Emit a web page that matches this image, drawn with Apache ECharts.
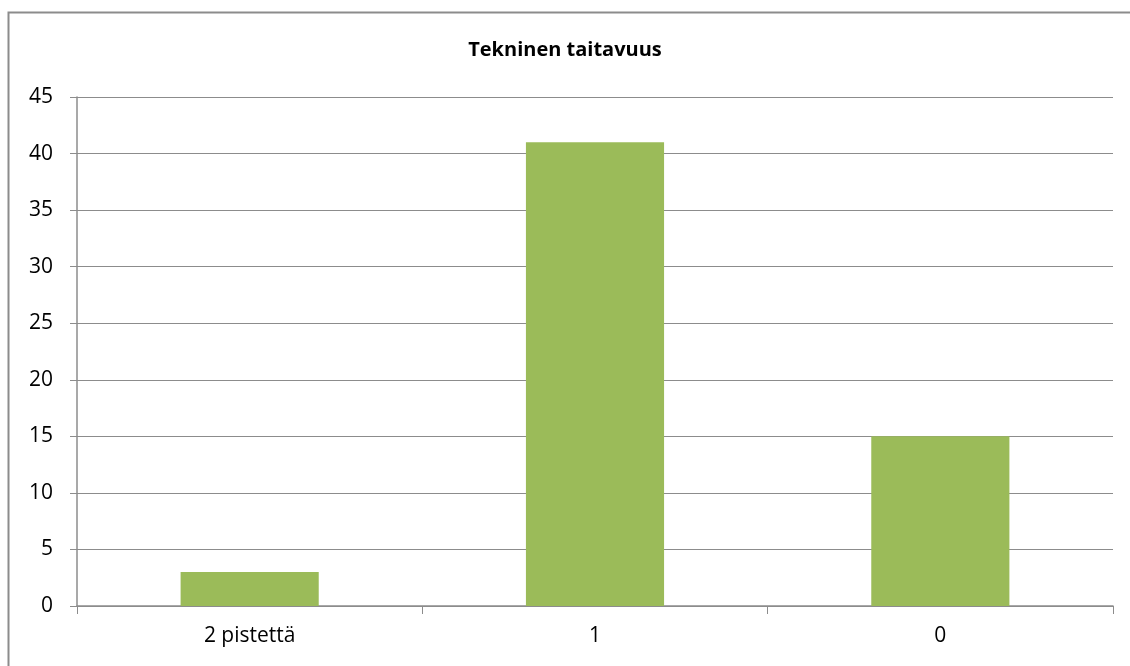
<!DOCTYPE html>
<html>
<head>
<meta charset="utf-8">
<script src="https://cdn.jsdelivr.net/npm/echarts@6/dist/echarts.min.js"></script>
<style>
  html, body { margin: 0; padding: 0; background: #fff; }
  #chart { width: 1130px; height: 666px; }
</style>
</head>
<body>
<div id="chart"></div>
<script>
const categories = ['2 pistettä', '1', '0'];
const values = [3, 41, 15];
const titleText = 'Tekninen taitavuus';

const chart = echarts.init(document.getElementById('chart'));
const option = {
  animation: false,
  textStyle: { fontFamily: 'Open Sans' },
  title: {
    text: titleText,
    left: 'center',
    top: 35,
    textStyle: { fontSize: 20, fontWeight: 'bold', color: '#000', fontFamily: 'Open Sans' }
  },
  // outer chart frame
  graphic: [{
    type: 'rect',
    shape: { x: 8.5, y: 12.5, width: 1140, height: 680 },
    style: { fill: 'none', stroke: '#8c8c8c', lineWidth: 2 },
    silent: true
  }],
  grid: { left: 77, right: 17, top: 97, bottom: 60 },
  xAxis: {
    type: 'category',
    data: categories,
    axisLine: { lineStyle: { color: '#8c8c8c', width: 1.5 } },
    axisTick: { show: true, length: 8, lineStyle: { color: '#8c8c8c' } },
    axisLabel: { color: '#000', fontSize: 21, margin: 20 }
  },
  yAxis: {
    type: 'value',
    min: 0,
    max: 45,
    interval: 5,
    axisLine: { show: true, lineStyle: { color: '#8c8c8c', width: 1.5 } },
    axisTick: { show: true, length: 7, lineStyle: { color: '#8c8c8c' } },
    axisLabel: { color: '#000', fontSize: 21, margin: 24 },
    splitLine: { show: true, lineStyle: { color: '#8c8c8c', width: 1 } }
  },
  series: [{
    type: 'bar',
    data: values,
    barWidth: '40%',
    itemStyle: { color: '#9BBB59' }
  }]
};
chart.setOption(option);
</script>
</body>
</html>
